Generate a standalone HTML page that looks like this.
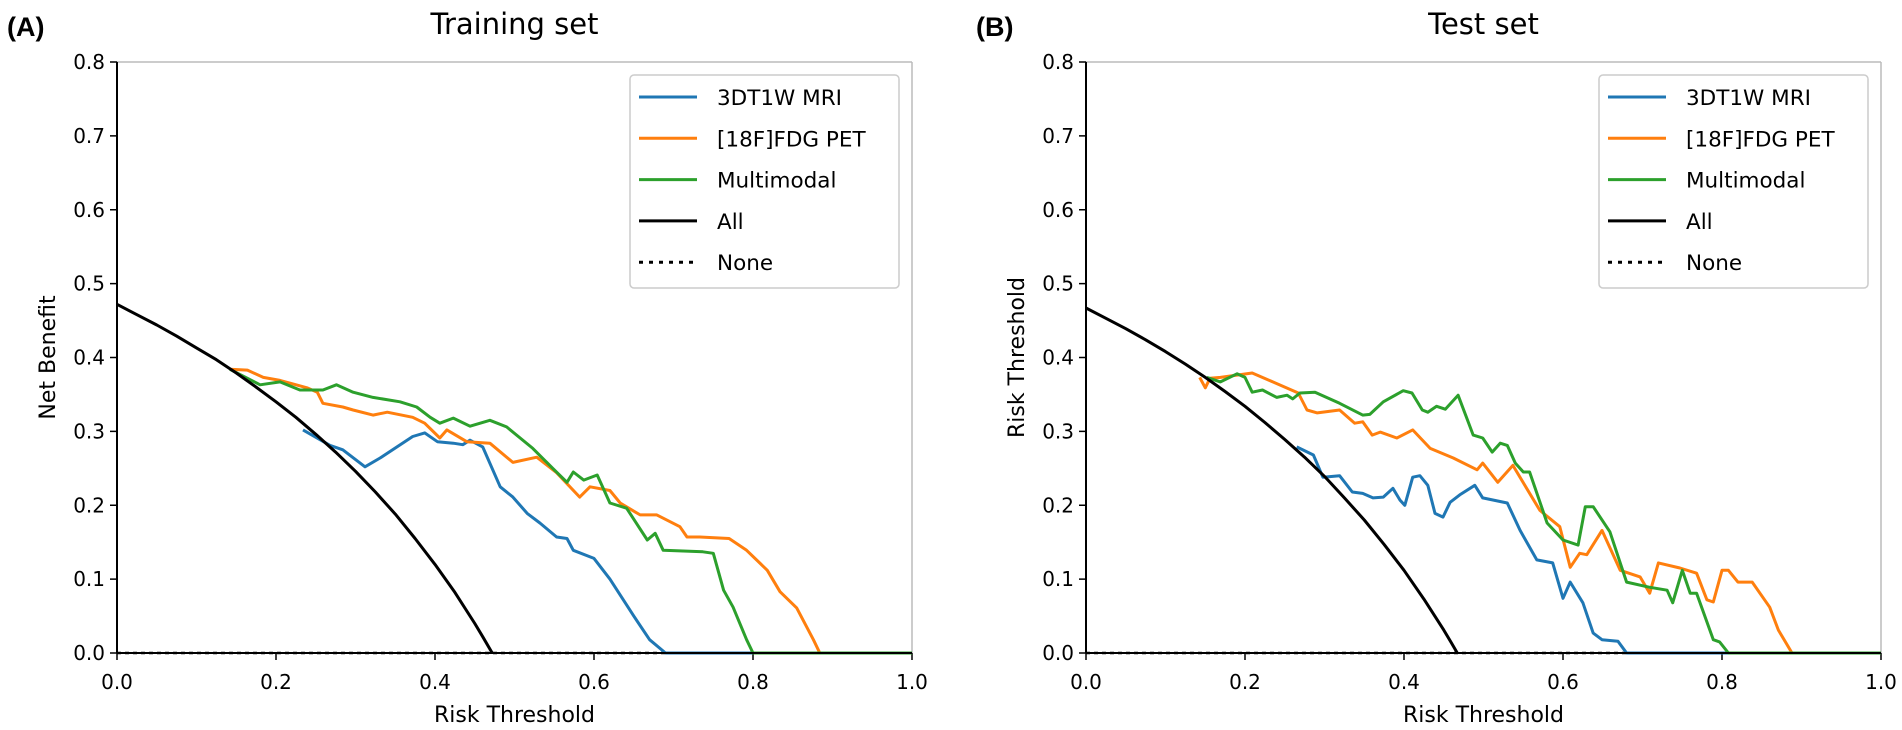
<!DOCTYPE html>
<html><head><meta charset="utf-8"><style>
html,body{margin:0;padding:0;background:#fff;}
svg{display:block;font-family:"DejaVu Sans","Liberation Sans",sans-serif;}
</style></head><body>
<svg id="fig" width="1902" height="730" viewBox="0 0 1902 730" xmlns="http://www.w3.org/2000/svg"></svg>
<script>
// ---- data ----
const xTicks = [0.0,0.2,0.4,0.6,0.8,1.0];
const yTicks = [0.0,0.1,0.2,0.3,0.4,0.5,0.6,0.7,0.8];
const seriesNames = ["3DT1W MRI","[18F]FDG PET","Multimodal","All","None"];
const seriesColors = ["#1f77b4","#ff7f0e","#2ca02c","#000000","#000000"];

// Training set
const trainAllT = [0,0.025,0.05,0.075,0.1,0.125,0.15,0.175,0.2,0.225,0.25,0.275,0.3,0.325,0.35,0.375,0.4,0.425,0.45,0.46,0.472];
const trainAllV = [0.472,0.458,0.444,0.429,0.413,0.397,0.379,0.360,0.340,0.319,0.296,0.272,0.246,0.218,0.188,0.155,0.120,0.082,0.040,0.022,0];
const trainMriT = [0.234,0.268,0.284,0.312,0.331,0.372,0.387,0.403,0.423,0.435,0.444,0.460,0.482,0.498,0.516,0.532,0.553,0.566,0.574,0.60,0.62,0.65,0.67,0.69,1.0];
const trainMriV = [0.302,0.281,0.275,0.252,0.264,0.293,0.298,0.286,0.284,0.282,0.288,0.279,0.225,0.211,0.189,0.176,0.157,0.155,0.139,0.128,0.10,0.05,0.018,0,0];
const trainPetT = [0.142,0.164,0.184,0.205,0.239,0.252,0.259,0.284,0.297,0.322,0.340,0.372,0.387,0.406,0.415,0.440,0.469,0.498,0.528,0.553,0.582,0.595,0.620,0.633,0.658,0.679,0.708,0.717,0.733,0.770,0.792,0.818,0.834,0.855,0.876,0.884,1.0];
const trainPetV = [0.384,0.383,0.373,0.369,0.359,0.353,0.338,0.333,0.329,0.322,0.326,0.319,0.311,0.291,0.302,0.286,0.284,0.258,0.265,0.244,0.211,0.225,0.220,0.203,0.187,0.187,0.171,0.157,0.157,0.155,0.139,0.112,0.083,0.061,0.018,0,0];
const trainMultiT = [0.142,0.180,0.205,0.230,0.259,0.276,0.297,0.322,0.356,0.377,0.394,0.406,0.423,0.444,0.469,0.490,0.523,0.548,0.566,0.574,0.587,0.604,0.620,0.641,0.667,0.677,0.687,0.737,0.750,0.763,0.775,0.792,0.800,1.0];
const trainMultiV = [0.384,0.363,0.367,0.356,0.356,0.363,0.353,0.346,0.340,0.333,0.319,0.311,0.318,0.307,0.315,0.306,0.277,0.250,0.231,0.245,0.234,0.241,0.203,0.196,0.153,0.162,0.139,0.137,0.135,0.085,0.062,0.018,0,0];

// Test set
const testAllT = [0,0.025,0.05,0.075,0.1,0.125,0.15,0.175,0.2,0.225,0.25,0.275,0.3,0.325,0.35,0.375,0.4,0.425,0.45,0.46,0.467];
const testAllV = [0.467,0.453,0.439,0.424,0.408,0.391,0.373,0.354,0.334,0.312,0.289,0.265,0.239,0.210,0.180,0.147,0.112,0.073,0.031,0.013,0];
const testMriT = [0.265,0.286,0.298,0.319,0.335,0.348,0.361,0.374,0.386,0.395,0.401,0.411,0.420,0.430,0.439,0.449,0.458,0.470,0.489,0.499,0.530,0.546,0.567,0.587,0.600,0.609,0.625,0.638,0.649,0.669,0.680,1.0];
const testMriV = [0.279,0.268,0.238,0.240,0.218,0.216,0.210,0.211,0.223,0.207,0.200,0.238,0.240,0.227,0.189,0.184,0.204,0.214,0.227,0.210,0.203,0.166,0.126,0.122,0.074,0.096,0.068,0.027,0.018,0.016,0,0];
const testPetT = [0.143,0.150,0.156,0.169,0.209,0.235,0.267,0.278,0.291,0.319,0.338,0.348,0.360,0.370,0.391,0.411,0.433,0.462,0.492,0.499,0.518,0.537,0.571,0.596,0.609,0.621,0.630,0.649,0.672,0.697,0.709,0.720,0.747,0.768,0.781,0.789,0.800,0.808,0.820,0.838,0.860,0.871,0.888,1.0];
const testPetV = [0.373,0.359,0.372,0.373,0.379,0.367,0.352,0.329,0.325,0.329,0.311,0.313,0.295,0.299,0.291,0.302,0.277,0.264,0.248,0.257,0.231,0.254,0.193,0.171,0.116,0.135,0.133,0.166,0.112,0.103,0.081,0.122,0.115,0.108,0.072,0.069,0.112,0.112,0.096,0.096,0.062,0.031,0,0];
const testMultiT = [0.152,0.169,0.190,0.200,0.209,0.222,0.240,0.253,0.260,0.269,0.288,0.319,0.348,0.357,0.374,0.399,0.410,0.423,0.430,0.441,0.452,0.468,0.487,0.499,0.511,0.521,0.530,0.540,0.550,0.558,0.580,0.600,0.619,0.628,0.638,0.659,0.680,0.709,0.731,0.738,0.750,0.760,0.768,0.789,0.797,0.808,1.0];
const testMultiV = [0.373,0.367,0.378,0.373,0.353,0.356,0.346,0.349,0.344,0.352,0.353,0.338,0.322,0.323,0.340,0.355,0.352,0.329,0.326,0.334,0.330,0.349,0.295,0.291,0.272,0.284,0.281,0.257,0.245,0.245,0.176,0.153,0.146,0.198,0.198,0.164,0.096,0.089,0.085,0.068,0.112,0.081,0.081,0.018,0.015,0,0];

const NS = "http://www.w3.org/2000/svg";
const svg = document.getElementById('fig');
function mk(tag, attrs, parent, text){
  const e = document.createElementNS(NS, tag);
  for (const k in attrs) e.setAttribute(k, attrs[k]);
  if (text !== undefined) e.textContent = text;
  (parent||svg).appendChild(e);
  return e;
}

function panel(opts){
  const x0 = opts.x0, x1 = opts.x0 + 795, yb = 653, yt = 62;
  const sx = t => x0 + t * (x1 - x0);
  const sy = v => yb - v / 0.8 * (yb - yt);
  const g = mk('g', {});
  
  

  const lbl = mk('text', {x: opts.x0 - 110, y: 36, 'font-size': 27, 'font-weight': 'bold', 'font-family': '"Liberation Sans",sans-serif'}, g, opts.letter);
  
  
  const title = mk('text', {x: (x0 + x1) / 2, y: 34, 'font-size': 29, 'text-anchor': 'middle'}, g, opts.title);
  
  

  mk('line', {x1: x0, y1: yt, x2: x1, y2: yt, stroke: '#bbb', 'stroke-width': 1.5}, g);
  mk('line', {x1: x1, y1: yt, x2: x1, y2: yb, stroke: '#bbb', 'stroke-width': 1.5}, g);

  xTicks.forEach(t => {
    mk('line', {x1: sx(t), y1: yb, x2: sx(t), y2: yb + 7, stroke: '#000', 'stroke-width': 1.5}, g);
    const tl = mk('text', {x: sx(t), y: 689, 'font-size': 20, 'text-anchor': 'middle'}, g, t.toFixed(1));
    
    
  });
  yTicks.forEach(v => {
    mk('line', {x1: x0 - 7, y1: sy(v), x2: x0, y2: sy(v), stroke: '#000', 'stroke-width': 1.5}, g);
    const tl = mk('text', {x: x0 - 12, y: sy(v) + 7, 'font-size': 20, 'text-anchor': 'end'}, g, v.toFixed(1));
    
    
  });
  const xl = mk('text', {x: (x0 + x1) / 2, y: 722, 'font-size': 22, 'text-anchor': 'middle'}, g, 'Risk Threshold');
  
  
  const yl = mk('text', {x: 0, y: 0, 'font-size': 22, 'text-anchor': 'middle', transform: `translate(${x0 - 62},${(yt + yb) / 2}) rotate(-90)`}, g, opts.ylabel);
  
  

  const none = mk('line', {x1: sx(0), y1: sy(0), x2: sx(1), y2: sy(0), stroke: '#000', 'stroke-width': 2.5, 'stroke-dasharray': '4,4'}, g);
  
  

  const series = [
    [opts.mriT, opts.mriV, 0, 'mri-line'],
    [opts.petT, opts.petV, 1, 'pet-line'],
    [opts.multiT, opts.multiV, 2, 'multimodal-line'],
    [opts.allT, opts.allV, 3, 'all-line']
  ];
  series.forEach(s => {
    const pts = s[0].map((t, i) => sx(t).toFixed(1) + ',' + sy(s[1][i]).toFixed(1)).join(' ');
    const pl = mk('polyline', {points: pts, fill: 'none', stroke: seriesColors[s[2]], 'stroke-width': 3, 'stroke-linejoin': 'round'}, g);
    
    
  });

  mk('line', {x1: x0, y1: yt, x2: x0, y2: yb, stroke: '#000', 'stroke-width': 2}, g);
  mk('line', {x1: x0, y1: yb, x2: x1, y2: yb, stroke: '#000', 'stroke-width': 2}, g);

  const lx = x0 + 513, ly = 75;
  const lg = mk('g', {}, g);
  
  
  mk('rect', {x: lx, y: ly, width: 269, height: 213, rx: 4, fill: '#fff', stroke: '#ccc', 'stroke-width': 1.5}, lg);
  seriesNames.forEach((n, i) => {
    const yy = ly + 22 + i * 41.3;
    const attrs = {x1: lx + 9, y1: yy, x2: lx + 67, y2: yy, stroke: seriesColors[i], 'stroke-width': 3};
    if (i === 4) attrs['stroke-dasharray'] = '4,6';
    mk('line', attrs, lg);
    const t = mk('text', {x: lx + 87, y: yy + 8, 'font-size': 21.5}, lg, n);
    
    
  });
}

panel({key: 'training', letter: '(A)', title: 'Training set', ylabel: 'Net Benefit', x0: 117,
  allT: trainAllT, allV: trainAllV, mriT: trainMriT, mriV: trainMriV, petT: trainPetT, petV: trainPetV, multiT: trainMultiT, multiV: trainMultiV});
panel({key: 'test', letter: '(B)', title: 'Test set', ylabel: 'Risk Threshold', x0: 1086,
  allT: testAllT, allV: testAllV, mriT: testMriT, mriV: testMriV, petT: testPetT, petV: testPetV, multiT: testMultiT, multiV: testMultiV});
</script>
</body></html>
